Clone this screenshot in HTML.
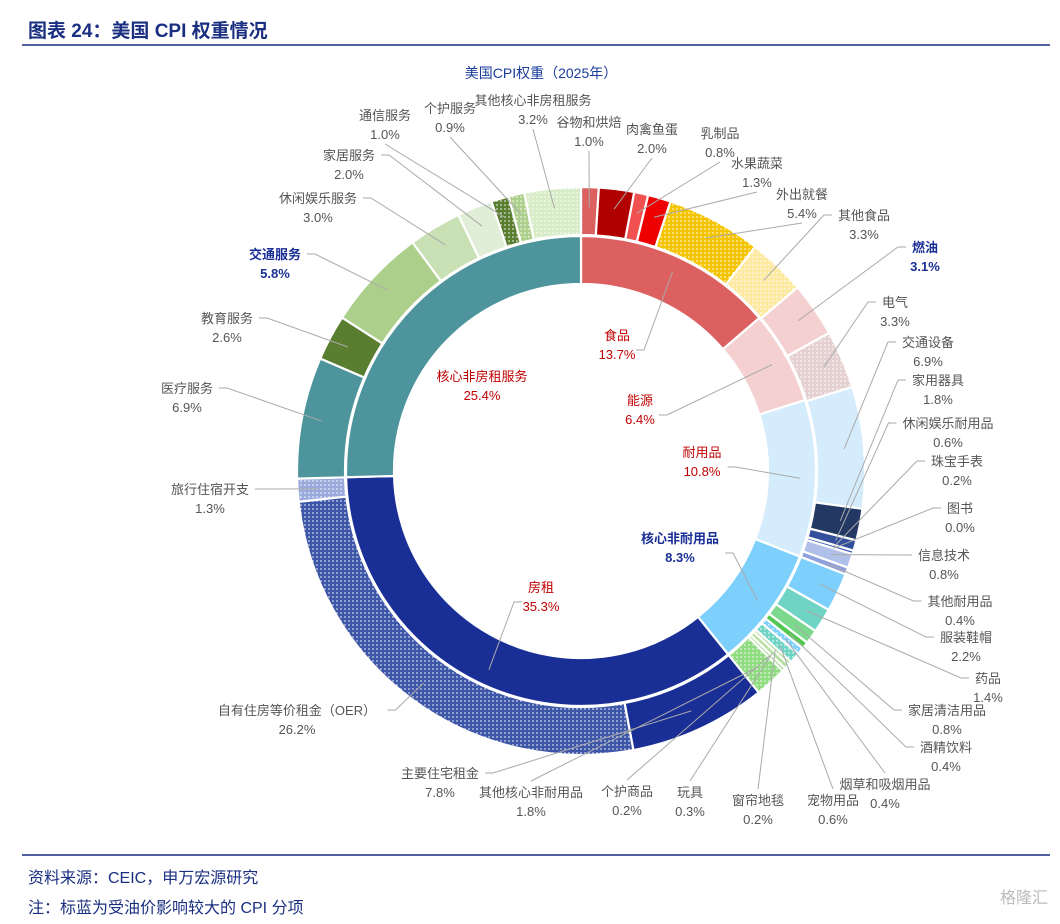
<!DOCTYPE html>
<html><head><meta charset="utf-8">
<style>
body{margin:0;background:#fff;width:1060px;height:919px;overflow:hidden;font-family:"Liberation Sans","Noto Sans CJK SC",sans-serif;}
svg text{font-family:"Liberation Sans","Noto Sans CJK SC",sans-serif;}
</style></head>
<body>
<svg id="c" width="1060" height="919" viewBox="0 0 1060 919">
<defs id="defs"></defs>
<text x="28" y="37" font-size="19" font-weight="bold" fill="#1a2f80">图表 24：美国 CPI 权重情况</text>
<line x1="22" y1="45" x2="1050" y2="45" stroke="#1a2f80" stroke-width="1.5"/>
<text x="541" y="78" font-size="14" fill="#1a3c9c" text-anchor="middle">美国CPI权重（2025年）</text>
<g id="rings"></g>
<g id="lines"></g>
<g id="labels"></g>
<line x1="22" y1="855" x2="1050" y2="855" stroke="#1a2f80" stroke-width="1.5"/>
<text x="28" y="883" font-size="16" fill="#1a2f80">资料来源：CEIC，申万宏源研究</text>
<text x="28" y="913" font-size="16" fill="#1a2f80">注：标蓝为受油价影响较大的 CPI 分项</text>
<text x="1048" y="903" font-size="16" fill="#bbb" text-anchor="end">格隆汇</text>
</svg>
<script>
const innerNames=["食品","能源","耐用品","核心非耐用品","房租","核心非房租服务"];
const innerValues=[13.7,6.4,10.8,8.3,35.3,25.4];
const outerNames=["谷物和烘焙","肉禽鱼蛋","乳制品","水果蔬菜","外出就餐","其他食品","燃油","电气","交通设备","家用器具","休闲娱乐耐用品","珠宝手表","图书","信息技术","其他耐用品","服装鞋帽","药品","家居清洁用品","酒精饮料","烟草和吸烟用品","宠物用品","窗帘地毯","玩具","个护商品","其他核心非耐用品","主要住宅租金","自有住房等价租金（OER）","旅行住宿开支","医疗服务","教育服务","交通服务","休闲娱乐服务","家居服务","通信服务","个护服务","其他核心非房租服务"];
const outerValues=[1.0,2.0,0.8,1.3,5.4,3.3,3.1,3.3,6.9,1.8,0.6,0.2,0.0,0.8,0.4,2.2,1.4,0.8,0.4,0.4,0.6,0.2,0.3,0.2,1.8,7.8,26.2,1.3,6.9,2.6,5.8,3.0,2.0,1.0,0.9,3.2];

const innerStyle=[["#dc6060",0],["#f4d0d0",0],["#d4ecfc",0],["#7ed0fc",0],["#1a2f96",0],["#4d949c",0]];
const outerStyle=[["#dc6060",0],["#b00000",0],["#f05050",0],["#ee0000",0],["#f5c400",1],["#fde9a0",1],["#f4d0d0",0],["#e4d0d0",1],["#d4ecfc",0],["#243864",0],["#34509c",0],["#3c5cb0",0],["#c0c8e0",0],["#b0c0e8",0],["#90a0dc",0],["#7ed0fc",0],["#70d4c4",0],["#7cd88c",0],["#50c850",0],["#7ed0fc",1],["#70d4c4",1],["#a8d890",0],["#b8e0a0",0],["#a8d890",0],["#90dc80",1],["#1a2f96",0],["#3e56a8",1],["#9aaadc",1],["#4d949c",0],["#5a7e30",0],["#acd08c",0],["#c8e0b4",0],["#e0eed8",0],["#5a7e30",1],["#acd08c",1],["#d8ecc8",1]];
const outerLbl=[[589,127,'t'],[652,134,'t'],[720,138,'t'],[757,168,'t'],[802,199,'t'],[864,220,'r'],[925,252,'r',1],[895,307,'r'],[928,347,'r'],[938,385,'r'],[948,428,'r'],[957,466,'r'],[960,513,'r'],[944,560,'r'],[960,606,'r'],[966,642,'r'],[988,683,'r'],[947,715,'r'],[946,752,'r'],[885,789,'b'],[833,805,'b'],[758,805,'b'],[690,797,'b'],[627,796,'b'],[531,797,'b'],[440,778,'l'],[297,715,'l'],[210,494,'l'],[187,393,'l'],[227,323,'l'],[275,259,'l',1],[318,203,'l'],[349,160,'l'],[385,120,'t'],[450,113,'t'],[533,105,'t']];
const innerLbl=[[617,340,'i'],[640,405,'i'],[702,457,'i'],[680,543,'i',1],[541,592,'i'],[482,381,'n']];

const NS="http://www.w3.org/2000/svg";
const cx=581,cy=471;
function pt(f,r){const a=2*Math.PI*f;return [cx+r*Math.sin(a),cy-r*Math.cos(a)];}
function mk(t,at,par){const e=document.createElementNS(NS,t);for(const k in at)e.setAttribute(k,at[k]);par.appendChild(e);return e;}
const defs=document.getElementById('defs'),rings=document.getElementById('rings'),lines=document.getElementById('lines'),labels=document.getElementById('labels');
let pid=0;
function fillFor(s){if(!s[1])return s[0];const id='p'+(pid++);const p=mk('pattern',{id:id,width:4,height:4,patternUnits:'userSpaceOnUse'},defs);mk('rect',{width:4,height:4,fill:s[0]},p);mk('circle',{cx:1,cy:1,r:0.9,fill:'#fff','fill-opacity':0.75},p);return 'url(#'+id+')';}
function arc(f0,f1,r0,r1){const [x0,y0]=pt(f0,r1),[x1,y1]=pt(f1,r1),[x2,y2]=pt(f1,r0),[x3,y3]=pt(f0,r0);const lg=(f1-f0)>0.5?1:0;return `M${x0},${y0}A${r1},${r1} 0 ${lg} 1 ${x1},${y1}L${x2},${y2}A${r0},${r0} 0 ${lg} 0 ${x3},${y3}Z`;}
function ring(names,vals,styles,lbls,r0,r1,kind){
  const tot=vals.reduce((a,b)=>a+b,0);let acc=0;
  vals.forEach((v,i)=>{
    const f0=acc/tot,f1=(acc+v)/tot;acc+=v;
    const slug=kind+'-seg-'+i;
    const p=mk('path',{d:arc(f0,f1,r0,r1),fill:fillFor(styles[i]),stroke:'#fff','stroke-width':v>0?2.2:0},rings);
    
    
    const L=lbls[i];const fm=(f0+f1)/2;const [ax,ay]=pt(fm,kind==='inner'?(r0+r1)/2+8:(r0+r1)/2+4);
    let ex,ey,hx;
    const nm=names[i];const w=nm.length*13;
    if(L[2]==='r'){ex=L[0]-w/2-6;ey=L[1]-5;hx=ex-8;}
    else if(L[2]==='l'){ex=L[0]+w/2+6;ey=L[1]-5;hx=ex+8;}
    else if(L[2]==='t'){ex=L[0];ey=L[1]+24;hx=null;}
    else if(L[2]==='b'){ex=L[0];ey=L[1]-16;hx=null;}
    else {ex=L[0]+(ax>L[0]?w/2+6:-w/2-6);ey=L[1]+10;hx=ex+(ax>L[0]?8:-8);}
    if(L[2]!=='n'){
      let d=`M${ax},${ay}`;
      if(hx!==null)d+=`L${hx},${ey}L${ex},${ey}`;else d+=`L${ex},${ey}`;
      const ln=mk('path',{d:d,fill:'none',stroke:'#aaa','stroke-width':1},lines);
      
      
    }
    const col=L[3]?'#1a2f96':(kind==='inner'?'#c00000':'#555');
    const t1=mk('text',{x:L[0],y:L[1],'font-size':13,fill:col,'text-anchor':'middle','font-weight':L[3]?'bold':'normal'},labels);
    t1.textContent=nm;
    
    
    const t2=mk('text',{x:L[0],y:L[1]+19,'font-size':13,fill:col,'text-anchor':'middle','font-weight':L[3]?'bold':'normal'},labels);
    t2.textContent=v.toFixed(1)+'%';
    
    
  });
}
ring(innerNames,innerValues,innerStyle,innerLbl,187,235,'inner');
ring(outerNames,outerValues,outerStyle,outerLbl,236,284,'outer');
</script>
</body></html>
